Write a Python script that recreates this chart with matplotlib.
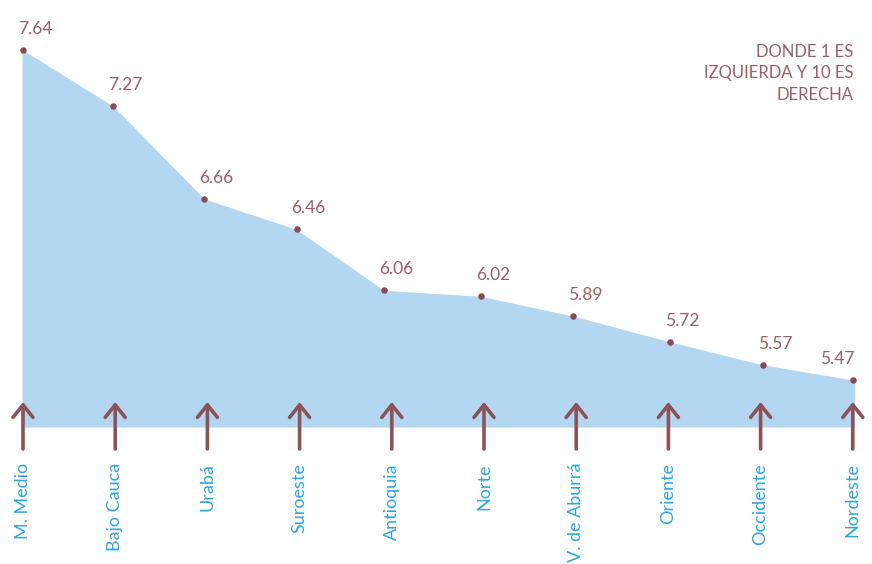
import matplotlib
matplotlib.use("Agg")
import matplotlib.pyplot as plt
import numpy as np

categories = ["M. Medio", "Bajo Cauca", "Urabá", "Suroeste", "Antioquia",
              "Norte", "V. de Aburrá", "Oriente", "Occidente", "Nordeste"]
values = [7.64, 7.27, 6.66, 6.46, 6.06, 6.02, 5.89, 5.72, 5.57, 5.47]
value_labels = ["7.64", "7.27", "6.66", "6.46", "6.06", "6.02", "5.89", "5.72", "5.57", "5.47"]
note = "DONDE 1 ES\nIZQUIERDA Y 10 ES\nDERECHA"

plt.rcParams['font.family'] = ['Lato', 'DejaVu Sans']

W, H = 872, 564
fig = plt.figure(figsize=(W / 100, H / 100), dpi=100)
ax = fig.add_axes([0, 0, 1, 1])
ax.set_axis_off()

# pixel mapping: x_pix = 23 + i*92.2 ; y_pix = 50 + (7.64 - v)*152.07
sx, sy = 92.2, 152.07
ax.set_xlim(-23 / sx, (W - 23) / sx)
ax.set_ylim(7.64 - (H - 50) / sy, 7.64 + 50 / sy)

# small horizontal layout shifts of the data points (in category units)
point_shift = np.array([0, -2, -3, -3, -8, -3, -3, 2, 2, 0]) / sx
x = np.arange(len(categories)) + point_shift
base = 7.64 - (427 - 50) / sy

fill_c = "#B3D7F0"
dot_c = "#8A4C53"
txt_c = "#9A5F66"
lab_c = "#2AA7E0"

xf = np.concatenate([[x[0] - 0.01], x, [x[-1] + 0.02]])
yf = np.concatenate([[values[0]], values, [values[-1]]])
ax.fill_between(xf, base, yf, color=fill_c, lw=0, zorder=1)
ax.scatter(x, values, s=22, color=dot_c, zorder=3, lw=0)

for i, (v, t) in enumerate(zip(values, value_labels)):
    if i == len(values) - 1:
        ax.annotate(t, (x[i], v), xytext=(2, 13), textcoords="offset pixels",
                    ha="right", va="bottom", color=txt_c, fontsize=12.5)
    else:
        ax.annotate(t, (x[i], v), xytext=(-5, 13), textcoords="offset pixels",
                    ha="left", va="bottom", color=txt_c, fontsize=12.5)

# arrows and labels
y_tip = 7.64 - (402 - 50) / sy
y_bot = 7.64 - (449 - 50) / sy
y_lab = 7.64 - (463 - 50) / sy
for i, cat in enumerate(categories):
    ax.annotate("", xy=(i, y_tip), xytext=(i, y_bot),
                arrowprops=dict(arrowstyle="->,head_length=0.45,head_width=0.36",
                                mutation_scale=20, color="#8C5257", lw=2.6,
                                shrinkA=0, shrinkB=0),
                zorder=4)
    ax.text(i, y_lab, cat, rotation=90, ha="center", va="top",
            color=lab_c, fontsize=13)

fig.text(853 / W, 1 - 44 / H, note, ha="right", va="top", color=txt_c,
         fontsize=12, linespacing=1.42)

fig.savefig("out.png", dpi=100, facecolor="white")
